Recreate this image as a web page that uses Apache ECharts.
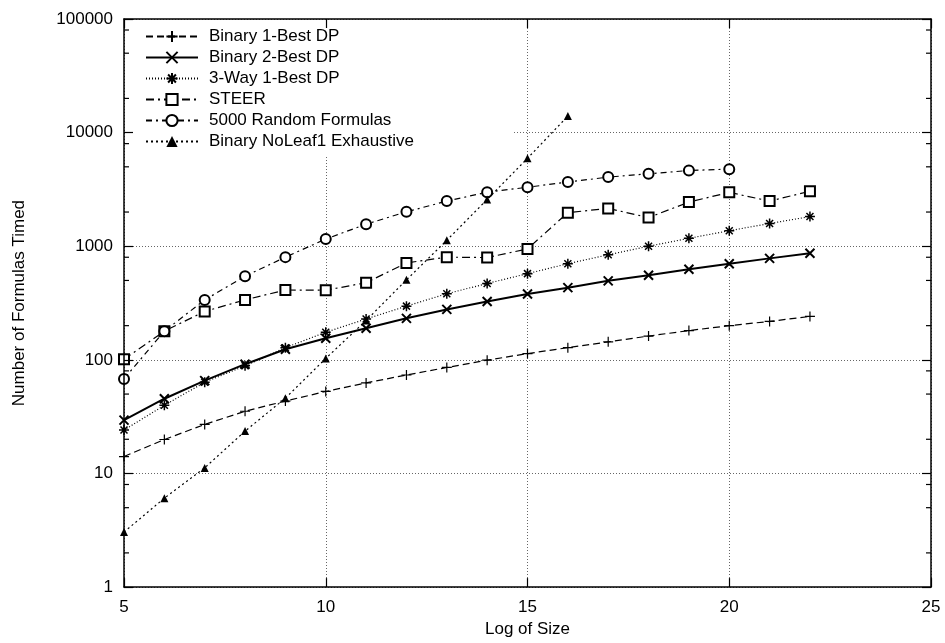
<!DOCTYPE html>
<html>
<head>
<meta charset="utf-8">
<script src="https://cdn.jsdelivr.net/npm/echarts@6/dist/echarts.min.js"></script>
<style>html,body{margin:0;padding:0;background:#fff;}#chart{width:945px;height:643px;}</style>
</head>
<body>
<div id="chart"></div>
<script>
// ---- data ----
const sizesBinary1 = [5,6,7,8,9,10,11,12,13,14,15,16,17,18,19,20,21,22];
const binary1Best = [14.1,19.9,27,35.3,43.4,52.7,62.7,73.6,85.7,99.4,113.5,128,144,162,181,200,218,241];
const sizesBinary2 = [5,6,7,8,9,10,11,12,13,14,15,16,17,18,19,20,21,22];
const binary2Best = [29.5,45.5,65.6,91.6,124,155,190,232,278,326,380,432,496,556,627,702,782,869];
const sizesThreeWay = [5,6,7,8,9,10,11,12,13,14,15,16,17,18,19,20,21,22];
const threeWay1Best = [24.1,39.8,63.5,88.6,128,175,229,297,382,470,574,702,841,1000,1174,1370,1585,1824];
const sizesSteer = [5,6,7,8,9,10,11,12,13,14,15,16,17,18,19,20,21,22];
const steer = [101,179,267,337,412,410,478,713,802,795,948,1976,2154,1787,2447,2980,2496,3049];
const sizesRandom = [5,6,7,8,9,10,11,12,13,14,15,16,17,18,19,20];
const randomFormulas = [68,179,337,545,802,1157,1563,2010,2496,2990,3305,3673,4060,4340,4645,4767];
const sizesNoLeaf = [5,6,7,8,9,10,11,12,13,14,15,16];
const noLeaf1 = [3.05,6.06,11.2,23.6,46,103,222,506,1128,2580,5940,13970];
const seriesNames = ['Binary 1-Best DP','Binary 2-Best DP','3-Way 1-Best DP','STEER','5000 Random Formulas','Binary NoLeaf1 Exhaustive'];
const minorTickValues = [2,5,8,20,50,80,200,500,800,2000,5000,8000,20000,50000,80000];

const FONT = 'Liberation Sans, Arial, Helvetica, sans-serif';
const zip = (xs, ys) => xs.map((x, i) => [x, ys[i]]);

const PLUS = 'path://M0,5L10,5M5,0L5,10';
const CROSS = 'path://M0,0L10,10M10,0L0,10';
const STAR = 'path://M0,5L10,5M5,0L5,10M1.5,1.5L8.5,8.5M8.5,1.5L1.5,8.5';

const chart = echarts.init(document.getElementById('chart'), null, {renderer: 'canvas'});

const gridSplit = {show: true, lineStyle: {color: '#666', width: 1, type: [1, 2]}};
const axisLine = {show: true, lineStyle: {color: '#000', width: 1.5}};

chart.setOption({
  animation: false,
  backgroundColor: '#fff',
  textStyle: {fontFamily: FONT},
  grid: {left: 124, right: 14, top: 19, bottom: 49, show: false},
  legend: {
    data: seriesNames,
    orient: 'vertical',
    left: 126, top: 21,
    padding: [7, 100, 5, 19],
    itemWidth: 52, itemHeight: 14, itemGap: 4,
    backgroundColor: '#fff',
    textStyle: {fontSize: 17, color: '#000', fontFamily: FONT, padding: [0, 0, 0, 6]},
    selectedMode: false
  },
  xAxis: [
    {type: 'value', min: 5, max: 25, interval: 5, position: 'bottom', z: 0,
     name: 'Log of Size', nameLocation: 'middle', nameGap: 29,
     nameTextStyle: {fontSize: 17, color: '#000', fontFamily: FONT},
     axisLine: axisLine,
     axisTick: {show: true, inside: true, length: 9, lineStyle: {color: '#000', width: 1.2}},
     axisLabel: {fontSize: 17, color: '#000', margin: 12, fontFamily: FONT},
     splitLine: gridSplit},
    {type: 'value', min: 5, max: 25, interval: 5, position: 'top', z: 10,
     axisLine: axisLine,
     axisTick: {show: true, inside: true, length: 9, lineStyle: {color: '#000', width: 1.2}},
     axisLabel: {show: false}, splitLine: {show: false}}
  ],
  yAxis: [
    {type: 'log', logBase: 10, min: 1, max: 100000, position: 'left', z: 10,
     name: 'Number of Formulas Timed', nameLocation: 'middle', nameGap: 96,
     nameTextStyle: {fontSize: 17, color: '#000', fontFamily: FONT},
     axisLine: axisLine,
     axisTick: {show: true, inside: true, length: 9, lineStyle: {color: '#000', width: 1.2}},
     axisLabel: {fontSize: 17, color: '#000', margin: 11, fontFamily: FONT, formatter: v => String(v)},
     splitLine: {show: false}},
    {type: 'log', logBase: 10, min: 1, max: 100000, position: 'right', z: 0,
     axisLine: axisLine,
     axisTick: {show: true, inside: true, length: 9, lineStyle: {color: '#000', width: 1.2}},
     axisLabel: {show: false},
     splitLine: gridSplit}
  ],
  series: [
    {name: seriesNames[0], type: 'line', data: zip(sizesBinary1, binary1Best),
     symbol: PLUS, symbolSize: 10,
     itemStyle: {color: 'transparent', borderColor: '#000', borderWidth: 1.2},
     lineStyle: {color: '#000', width: 1.2, type: [7, 4]}},
    {name: seriesNames[1], type: 'line', data: zip(sizesBinary2, binary2Best),
     symbol: CROSS, symbolSize: 9,
     itemStyle: {color: 'transparent', borderColor: '#000', borderWidth: 2},
     lineStyle: {color: '#000', width: 2}},
    {name: seriesNames[2], type: 'line', data: zip(sizesThreeWay, threeWay1Best),
     symbol: STAR, symbolSize: 10,
     itemStyle: {color: 'transparent', borderColor: '#000', borderWidth: 1.5},
     lineStyle: {color: '#000', width: 1.2, type: [1, 2]}},
    {name: seriesNames[3], type: 'line', data: zip(sizesSteer, steer),
     symbol: 'emptyRect', symbolSize: 10,
     itemStyle: {color: '#000', borderColor: '#000', borderWidth: 1.2},
     lineStyle: {color: '#000', width: 1.2, type: [8, 4, 2, 4]}},
    {name: seriesNames[4], type: 'line', data: zip(sizesRandom, randomFormulas),
     symbol: 'emptyCircle', symbolSize: 10,
     itemStyle: {color: '#000', borderColor: '#000', borderWidth: 1.2},
     lineStyle: {color: '#000', width: 1.2, type: [6, 4, 2, 4]}},
    {name: seriesNames[5], type: 'line', data: zip(sizesNoLeaf, noLeaf1),
     symbol: 'triangle', symbolSize: 8,
     itemStyle: {color: '#000'},
     lineStyle: {color: '#000', width: 1.2, type: [2, 3]}},
    {type: 'custom', z: 10, silent: true, clip: false,
     data: minorTickValues.map(v => [5, v]),
     renderItem: function (params, api) {
       const v = api.value(1);
       const l = api.coord([5, v]);
       const r = api.coord([25, v]);
       return {type: 'group', children: [
         {type: 'line', shape: {x1: l[0], y1: l[1], x2: l[0] + 5, y2: l[1]}, style: {stroke: '#000', lineWidth: 1.2}},
         {type: 'line', shape: {x1: r[0] - 5, y1: r[1], x2: r[0], y2: r[1]}, style: {stroke: '#000', lineWidth: 1.2}}
       ]};
     }}
  ]
});
</script>
</body>
</html>
